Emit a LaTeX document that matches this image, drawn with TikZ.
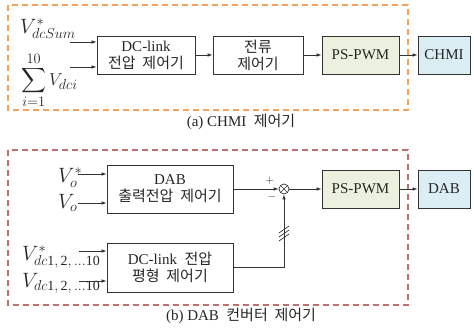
\documentclass[tikz,border=0pt]{standalone}
\usepackage{exscale}
\usepackage{fontspec}
\setmainfont{Liberation Serif}
\newfontfamily\krfont{Noto Sans CJK KR}
\usetikzlibrary{positioning,arrows.meta,calc}
\definecolor{pwmgreen}{HTML}{EBF1DE}
\definecolor{plantblue}{HTML}{DBEEF4}
\definecolor{frameorange}{HTML}{F4A15D}
\definecolor{framered}{HTML}{C0706C}

\begin{document}
\begin{tikzpicture}[x=1pt, y=-1pt,
    block/.style={draw=black!80, line width=0.8pt, minimum height=38pt, inner sep=1pt,
        align=center, text=black!85, font=\fontsize{15}{17}\selectfont},
    pwmblock/.style={block, fill=pwmgreen, minimum width=77pt},
    plant/.style={block, fill=plantblue, minimum width=52pt},
    sig/.style={draw=black!80, line width=0.7pt, -{Latex[length=5pt, width=3.5pt]}},
    wire/.style={draw=black!80, line width=0.7pt},
    frame/.style={line width=1.2pt, dash pattern=on 6pt off 4pt},
    inlabel/.style={inner sep=0pt, text=black!85, font=\fontsize{20}{22}\selectfont},
    caption/.style={text=black!85, font=\fontsize{15}{17}\selectfont},
    summer/.style={circle, draw=black!80, line width=0.7pt, minimum size=10pt, inner sep=0pt,
        path picture={\draw[line width=0.6pt, black!80]
            (path picture bounding box.north west) -- (path picture bounding box.south east)
            (path picture bounding box.north east) -- (path picture bounding box.south west);}}
]
    \useasboundingbox (0,0) rectangle (474,330);

    % (a) CHMI controller
    \draw[frame, frameorange] (8,5) rectangle (408,110);
    \node[block, minimum width=98pt] (dclink) at (146,55) {DC-link\\{\krfont 전압\ \ 제어기}};
    \node[block, minimum width=90pt] (current) at (258,55) {{\krfont 전류}\\{\krfont 제어기}};
    \node[pwmblock] (pwma) at (360.5,55) {PS-PWM};
    \node[plant] (chmi) at (444,55) {CHMI};

    \node[inlabel, anchor=base west] (vsumref) at (20,33) {$V^{*}_{dcSum}$};
    \node[inlabel, anchor=base west, font=\fontsize{19}{21}\selectfont] (vsum) at (21,85) {$\displaystyle\sum_{i=1}^{10} V_{dci}$};
    \coordinate (ina) at (70,42);
    \coordinate (inb) at (70,67);

    \draw[sig] (ina) -- (ina -| dclink.west);
    \draw[sig] (inb) -- (inb -| dclink.west);
    \draw[sig] (dclink.east) -- (current.west);
    \draw[sig] (current.east) -- (pwma.west);
    \draw[sig] (pwma.east) -- (chmi.west);

    \node[caption] (capa) at (241,122) {(a) CHMI\ \ {\krfont 제어기}};

    % (b) DAB converter controller
    \draw[frame, framered] (8,150) rectangle (408,305);
    \node[block, minimum width=126pt, minimum height=48pt] (dabctrl) at (170,189) {DAB\\{\krfont 출력전압\ \ 제어기}};
    \node[block, minimum width=126pt, minimum height=49pt] (balance) at (170,267.5) {DC-link\ \ {\krfont 전압}\\{\krfont 평형\ \ 제어기}};
    \node[summer] (sum) at (284,189) {};
    \node[pwmblock] (pwmb) at (360.5,189) {PS-PWM};
    \node[plant] (dab) at (444,189) {DAB};

    \node[inlabel, anchor=base west] (voref) at (58,182) {$V^{*}_{o}$};
    \node[inlabel, anchor=base west] (vo) at (58,208) {$V_{o}$};
    \node[inlabel, anchor=base west] (vdcref) at (22,260) {$V^{*}_{dc\mathrm{1,\,2,\,...10}}$};
    \node[inlabel, anchor=base west] (vdc) at (22,287) {$V_{dc\mathrm{1,\,2,\,...10}}$};
    \coordinate (inc) at (78,174);
    \coordinate (ind) at (78,203);
    \coordinate (ine) at (79,251);
    \coordinate (inf) at (79,281);

    \draw[sig] (inc) -- (inc -| dabctrl.west);
    \draw[sig] (ind) -- (ind -| dabctrl.west);
    \draw[sig] (ine) -- (ine -| balance.west);
    \draw[sig] (inf) -- (inf -| balance.west);
    \draw[sig] (dabctrl.east) -- (sum.west);
    \draw[sig] (balance.east) -| (sum.south);
    \draw[sig] (sum.east) -- (pwmb.west);
    \draw[sig] (pwmb.east) -- (dab.west);

    % bus marks
    \foreach \dy in {-4,0,4}
        \draw[wire] ($(sum.center |- 0,233)+(-5,\dy+4)$) -- ++(10,-7);

    \node[caption, font=\fontsize{11}{12}\selectfont] (plus) at (270,181) {$+$};
    \node[caption, font=\fontsize{11}{12}\selectfont] (minus) at (272,197) {$-$};

    \node[caption] (capb) at (241,316) {(b) DAB\ \ {\krfont 컨버터\ \ 제어기}};
\end{tikzpicture}
\end{document}
